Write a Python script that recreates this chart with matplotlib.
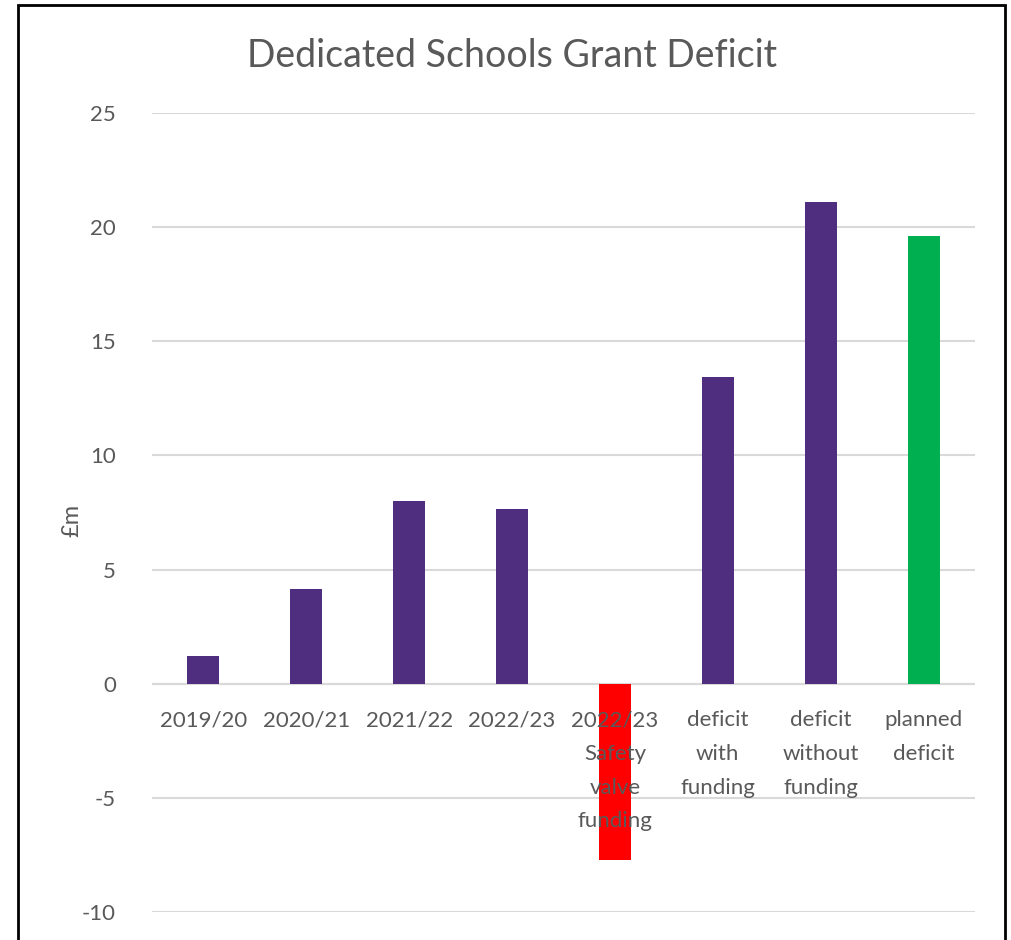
import matplotlib.pyplot as plt
from matplotlib.patches import Rectangle

plt.rcParams['font.family'] = ['Lato', 'DejaVu Sans']

categories = ['2019/20', '2020/21', '2021/22', '2022/23',
              '2022/23\nSafety\nvalve\nfunding', 'deficit\nwith\nfunding',
              'deficit\nwithout\nfunding', 'planned\ndeficit']
values = [1.23, 4.16, 8.01, 7.66, -7.71, 13.44, 21.10, 19.61]
colors = ['#4f2d7f', '#4f2d7f', '#4f2d7f', '#4f2d7f', '#ff0000',
          '#4f2d7f', '#4f2d7f', '#00b050']
y_ticks = [-10, -5, 0, 5, 10, 15, 20, 25]

text_color = '#595959'
grid_color = '#d9d9d9'

fig = plt.figure(figsize=(10.11, 9.4), dpi=100)
ax = fig.add_axes([0.1503, 0.0298, 0.8141, 0.85])

x = list(range(len(categories)))
ax.bar(x, values, width=0.31, color=colors, zorder=3)

ax.set_ylim(-10, 25)
ax.set_xlim(-0.5, len(categories) - 0.5)
ax.set_yticks(y_ticks)
ax.set_yticklabels([str(t) for t in y_ticks], fontsize=16, color=text_color)
ax.tick_params(axis='y', length=0, pad=26)
ax.yaxis.grid(True, color=grid_color, linewidth=1.5, zorder=0)
ax.set_axisbelow(True)

for s in ['top', 'left', 'right', 'bottom']:
    ax.spines[s].set_visible(False)
ax.axhline(0, color=grid_color, linewidth=1.5, zorder=1)
ax.set_xticks([])

# category labels sit right under the zero line, in front of the bars
for xi, lab in zip(x, categories):
    ax.annotate(lab, xy=(xi, 0), xytext=(0, -19), textcoords='offset points',
                ha='center', va='top', fontsize=16, color=text_color,
                linespacing=1.86, zorder=5)

ax.set_ylabel('£m', fontsize=17, color=text_color)
ax.yaxis.set_label_coords(-0.085, 0.49)
fig.text(0.506, 0.940, 'Dedicated Schools Grant Deficit', ha='center',
         va='center', fontsize=27, color=text_color)

fig.patches.append(Rectangle((18 / 1011, -0.01), 987 / 1011, 1.0047,
                             transform=fig.transFigure, fill=False,
                             edgecolor='black', linewidth=2))

fig.savefig('out.png', dpi=100)
